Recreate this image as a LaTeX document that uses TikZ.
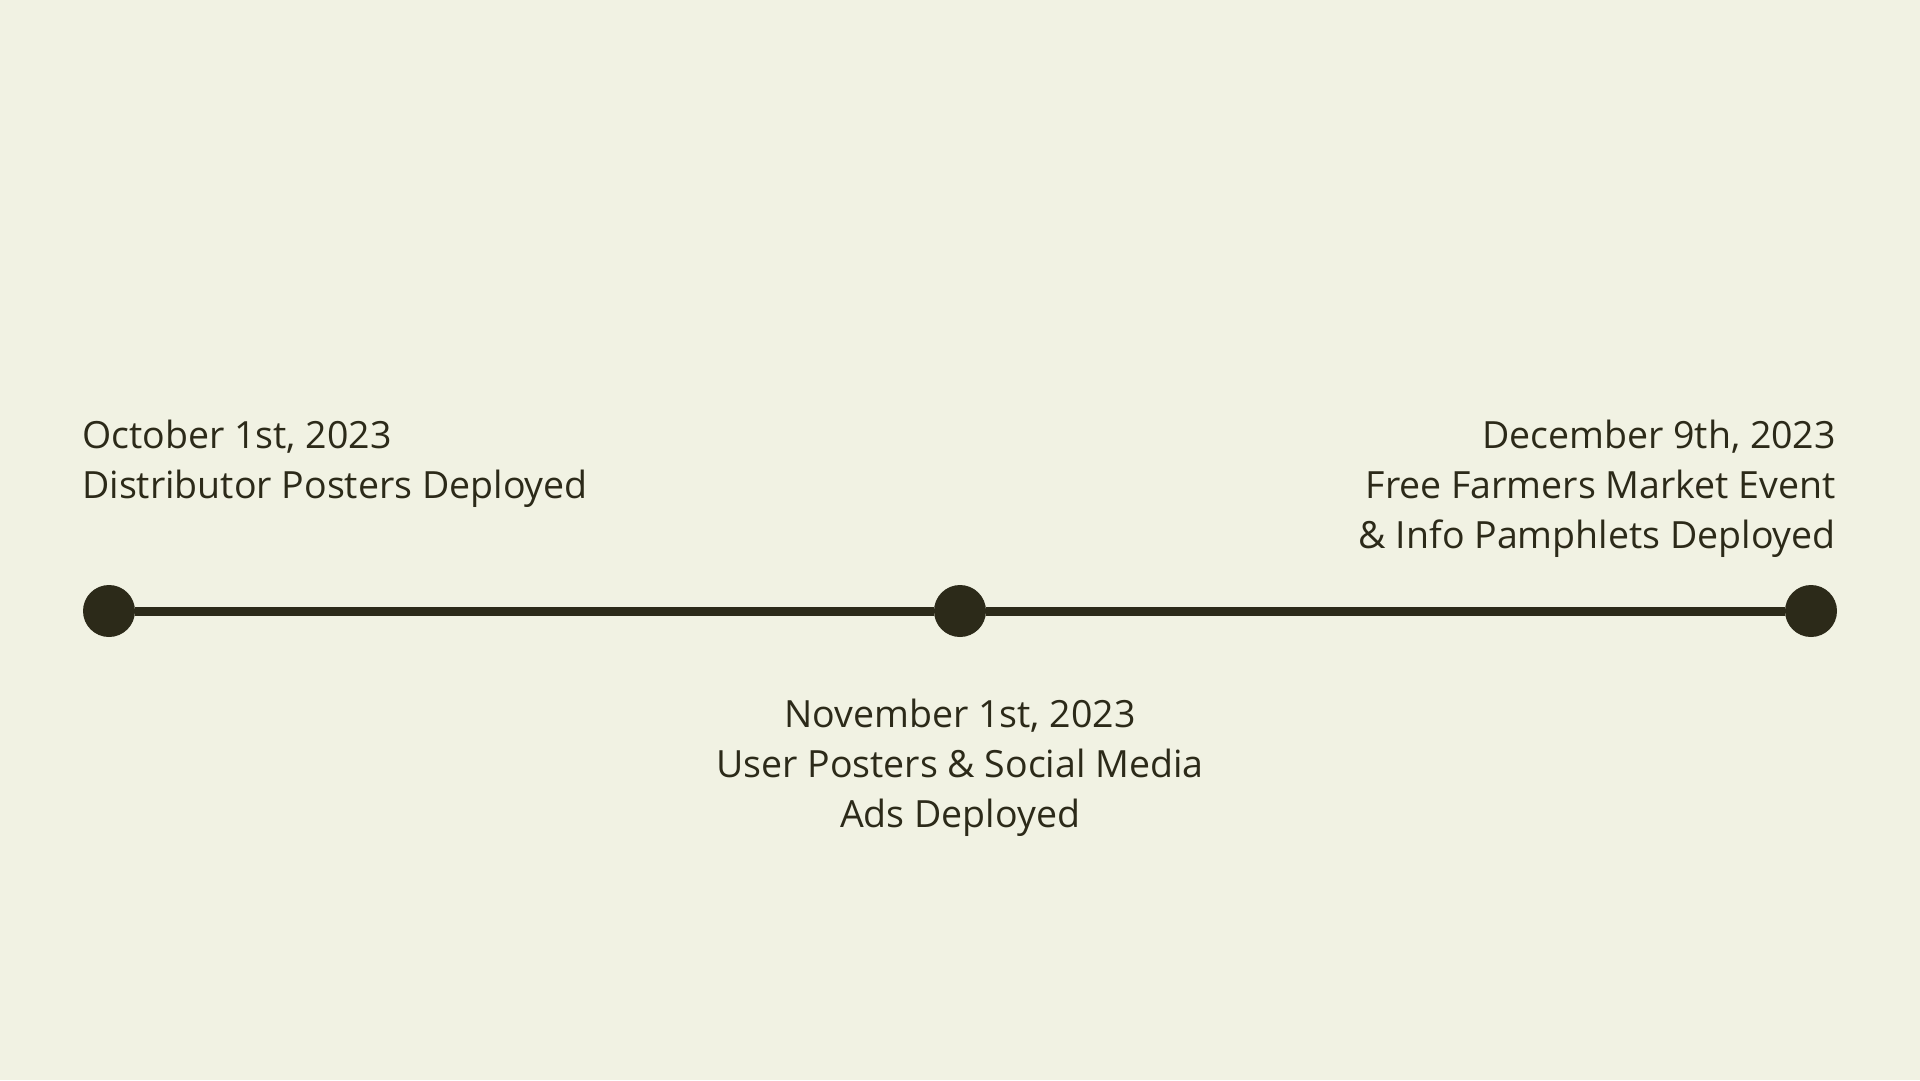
\documentclass[tikz,border=0pt]{standalone}
\usepackage{fontspec}
\setmainfont{Open Sans}
\usepackage{xcolor}
\definecolor{paper}{HTML}{F1F2E3}
\definecolor{ink}{HTML}{2C2A19}

\begin{document}
\begin{tikzpicture}[x=1pt,y=-1pt,
        milestone/.style={circle,fill=ink,inner sep=0pt,minimum size=52pt},
        event/.style={text=ink,inner sep=0pt,font=\fontsize{37.5}{50}\selectfont}]
            \fill[paper] (0,0) rectangle (1920,1080);
            \useasboundingbox (0,0) rectangle (1920,1080);

            \node[milestone] (oct) at (109,611) {};
            \node[milestone] (nov) at (960,611) {};
            \node[milestone] (dec) at (1811,611) {};

            \draw[ink,line width=9pt] (oct) -- (nov) -- (dec);

            \node[event,anchor=north west,align=left] (octtext) at (82,419.5)
                {October 1st, 2023\\Distributor Posters Deployed};
            \node[event,anchor=north,align=center] (novtext) at (960,698.5)
                {November 1st, 2023\\User Posters \& Social Media\\Ads Deployed};
            \node[event,anchor=north east,align=right] (dectext) at (1836,419.5)
                {December 9th, 2023\\Free Farmers Market Event\\\& Info Pamphlets Deployed};
\end{tikzpicture}
\end{document}
